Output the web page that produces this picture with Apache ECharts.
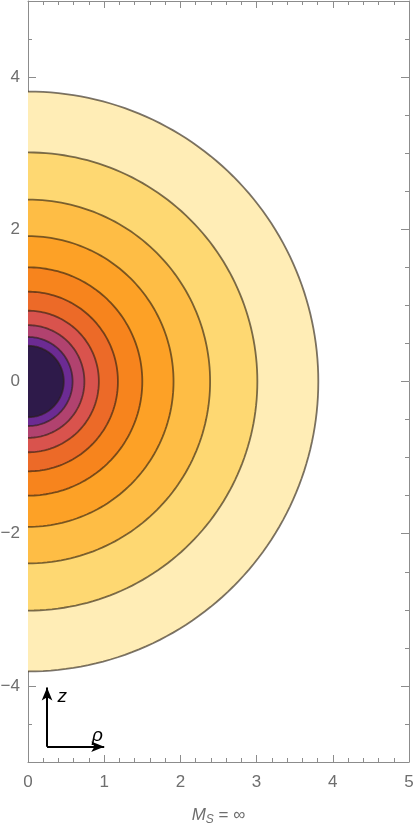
<!DOCTYPE html>
<html>
<head>
<meta charset="utf-8">
<script src="https://cdn.jsdelivr.net/npm/echarts@6/dist/echarts.min.js"></script>
<style>
  html, body { margin: 0; padding: 0; background: #fff; }
  #main { width: 415px; height: 829px; }
</style>
</head>
<body>
<div id="main"></div>
<script>
// contour levels (radius in rho/z units), outermost first
const radii = [3.81, 3.01, 2.39, 1.91, 1.50, 1.18, 0.93, 0.74, 0.585, 0.47];
// band fill between this contour and the next one inside
const bandColors = ['#ffedb6', '#fed872', '#febd45', '#fda126', '#f7841d',
  '#ec6a28', '#d9534d', '#b1426f', '#6c2b93', '#2e1a4a'];
const xTickLabels = ['0', '1', '2', '3', '4', '5'];
const yMajorValues = [-4, -2, 0, 2, 4];
const yTickLabels = ['−4', '−2', '0', '2', '4'];

const chart = echarts.init(document.getElementById('main'));
const axisGray = '#8c8c8c';
const labelGray = '#6e6e6e';
const font = 'Liberation Sans';

const baseX = {
  type: 'value', min: 0, max: 5, interval: 1,
  axisLine: { show: true, onZero: false, lineStyle: { color: axisGray, width: 1 } },
  axisTick: { show: true, inside: true, length: 7, lineStyle: { color: axisGray } },
  minorTick: { show: true, splitNumber: 5, length: 4, lineStyle: { color: axisGray } },
  splitLine: { show: false },
  minorSplitLine: { show: false }
};
// minor ticks every 0.5
const baseY = {
  type: 'value', min: -5, max: 5, interval: 0.5, offset: 0,
  axisLine: { show: true, onZero: false, lineStyle: { color: axisGray, width: 1 } },
  axisTick: { show: true, inside: true, length: 4, lineStyle: { color: axisGray } },
  splitLine: { show: false }
};
// long ticks at the labelled values
const majorY = {
  type: 'value', min: -5, max: 5, interval: 0.5, offset: 0,
  axisLine: { show: false, onZero: false },
  axisLabel: { show: false },
  axisTick: { show: true, inside: true, length: 8, customValues: yMajorValues, lineStyle: { color: axisGray } },
  splitLine: { show: false }
};

const option = {
  animation: false,
  grid: { left: 28, right: 6, top: 1, bottom: 67, containLabel: false, outerBoundsMode: 'none' },
  xAxis: [
    Object.assign({}, baseX, {
      position: 'bottom',
      axisLabel: {
        color: labelGray, fontSize: 17, fontFamily: font, margin: 12,
        formatter: v => xTickLabels[Math.round(v)]
      },
      name: '{i|M}{s|S} = ∞',
      nameLocation: 'middle',
      nameGap: 43,
      nameTextStyle: {
        color: labelGray, fontSize: 17, fontFamily: font,
        rich: {
          i: { fontStyle: 'italic', fontSize: 17, color: labelGray, fontFamily: font },
          s: { fontStyle: 'italic', fontSize: 12, color: labelGray, fontFamily: font, padding: [9, 0, 0, 0] }
        }
      }
    }),
    Object.assign({}, baseX, { position: 'top', axisLabel: { show: false } })
  ],
  yAxis: [
    Object.assign({}, baseY, {
      position: 'left',
      axisLabel: {
        color: labelGray, fontSize: 17, fontFamily: font, margin: 8,
        customValues: yMajorValues,
        formatter: v => yTickLabels[yMajorValues.indexOf(v)]
      }
    }),
    Object.assign({}, baseY, { position: 'right', axisLabel: { show: false } }),
    Object.assign({}, majorY, { position: 'left' }),
    Object.assign({}, majorY, { position: 'right' })
  ],
  series: [{
    type: 'custom',
    coordinateSystem: 'cartesian2d',
    data: radii.map(r => [r, 0]),
    encode: { x: 0, y: 1 },
    clip: true,
    renderItem: function (params, api) {
      const r = api.value(0);
      const pts = [];
      const n = 120;
      for (let k = 0; k <= n; k++) {
        const t = -Math.PI / 2 + Math.PI * k / n;
        pts.push(api.coord([r * Math.cos(t), r * Math.sin(t)]));
      }
      return {
        type: 'group',
        children: [
          { type: 'polygon', shape: { points: pts }, style: { fill: bandColors[params.dataIndex], stroke: null } },
          { type: 'polyline', shape: { points: pts },
            style: { fill: null, stroke: 'rgba(40,30,20,0.62)', lineWidth: 1.8 } }
        ]
      };
    },
    markLine: {
      silent: true,
      symbol: ['none', 'arrow'],
      symbolSize: [8, 13],
      label: { show: false },
      lineStyle: { color: '#000', width: 2, type: 'solid' },
      data: [
        [{ coord: [0.25, -4.8] }, { coord: [0.25, -4.02] }],
        [{ coord: [0.25, -4.8] }, { coord: [1.0, -4.8] }]
      ]
    },
    markPoint: {
      silent: true,
      symbolSize: 0,
      label: { show: true, color: '#000', fontSize: 19, fontStyle: 'italic', fontFamily: font },
      data: [
        { coord: [0.45, -4.14], value: 'z', label: { formatter: 'z' } },
        { coord: [0.91, -4.66], value: 'ρ', label: { formatter: 'ρ' } }
      ]
    }
  }]
};

chart.setOption(option);
</script>
</body>
</html>
